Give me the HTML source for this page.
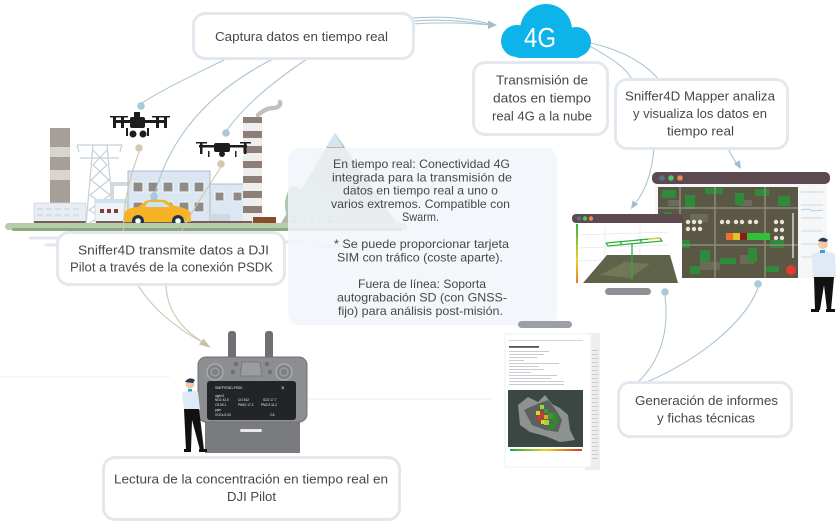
<!DOCTYPE html>
<html><head><meta charset="utf-8">
<style>
html,body{margin:0;padding:0;background:#fff;}
svg{display:block;}
text{font-family:"Liberation Sans",sans-serif;fill:#474747;}
</style></head><body>
<svg width="840" height="530" viewBox="0 0 840 530" xmlns="http://www.w3.org/2000/svg">
<defs>
<linearGradient id="gb" x1="0" x2="1" y1="0" y2="0"><stop offset="0" stop-color="#1fa83a"/><stop offset="0.5" stop-color="#e8d21a"/><stop offset="1" stop-color="#e0332b"/></linearGradient>
<linearGradient id="ga" x1="0" x2="0" y1="0" y2="1"><stop offset="0" stop-color="#3cb043"/><stop offset="0.6" stop-color="#e6d22a"/><stop offset="1" stop-color="#ef7b2a"/></linearGradient>
</defs>

<!-- faint ground lines -->
<line x1="0" y1="377" x2="170" y2="377" stroke="#eef2f6" stroke-width="1"/>
<line x1="305" y1="399" x2="493" y2="399" stroke="#e6edf3" stroke-width="1"/>

<!-- ===== Industrial scene ===== -->
<g stroke="#e3e7eb" stroke-width="3" stroke-linecap="round">
<line x1="30" y1="238" x2="60" y2="238"/><line x1="46" y1="245" x2="70" y2="245"/>
<line x1="120" y1="240" x2="160" y2="240"/><line x1="250" y1="242" x2="300" y2="242"/>
<line x1="320" y1="246" x2="370" y2="246"/>
</g>
<rect x="50" y="128" width="20" height="75" fill="#a59f98"/>
<rect x="50" y="147" width="20" height="10" fill="#d9d6d2"/>
<rect x="50" y="170" width="20" height="10" fill="#d9d6d2"/>
<rect x="34" y="203" width="52" height="22" fill="#e9edf2" stroke="#cdd5dd" stroke-width="0.8"/>
<g fill="#cfe0ee">
<rect x="37" y="208" width="6" height="2"/><rect x="46" y="208" width="6" height="2"/><rect x="55" y="208" width="6" height="2"/><rect x="64" y="208" width="6" height="2"/><rect x="73" y="208" width="6" height="2"/>
<rect x="37" y="214" width="6" height="2"/><rect x="46" y="214" width="6" height="2"/><rect x="55" y="214" width="6" height="2"/><rect x="64" y="214" width="6" height="2"/><rect x="73" y="214" width="6" height="2"/>
</g>
<rect x="34" y="221" width="52" height="4" fill="#7a5c5c"/>
<g stroke="#c6cfd8" stroke-width="1.2" fill="none">
<line x1="77" y1="145" x2="122" y2="145"/><line x1="80" y1="158" x2="119" y2="158"/>
<line x1="93" y1="145" x2="86" y2="225"/><line x1="107" y1="145" x2="114" y2="225"/>
<polyline points="93,150 107,165 91,180 110,195 89,210 112,224"/>
<polyline points="107,150 93,165 109,180 90,195 111,210 88,224"/>
<line x1="77" y1="145" x2="79" y2="152"/><line x1="122" y1="145" x2="120" y2="152"/>
</g>
<path d="M112,200 L112,184 L128,184" stroke="#d4d9de" stroke-width="4" fill="none"/>
<rect x="95" y="200" width="32" height="22" fill="#eef3f7" stroke="#c9d3dc" stroke-width="0.8"/>
<rect x="95" y="199" width="32" height="4" fill="#cfe1ee"/>
<g fill="#8a3a2a"><rect x="100" y="209" width="4" height="4"/><rect x="107" y="209" width="4" height="4"/><rect x="114" y="209" width="4" height="4"/></g>
<rect x="128" y="171" width="82" height="54" fill="#dae6f2" stroke="#aebccb" stroke-width="1"/>
<g fill="#8f8a86" stroke="#eef2f6" stroke-width="1.2">
<rect x="133" y="182" width="10" height="10"/><rect x="148" y="182" width="10" height="10"/><rect x="163" y="182" width="10" height="10"/><rect x="179" y="182" width="10" height="10"/><rect x="194" y="182" width="10" height="10"/>
<rect x="133" y="202" width="10" height="10"/><rect x="163" y="202" width="10" height="10"/><rect x="179" y="202" width="10" height="10"/><rect x="194" y="202" width="10" height="10"/>
</g>
<rect x="210" y="184" width="43" height="41" fill="#dbe7f2" stroke="#aebccb" stroke-width="1"/>
<g fill="#8f8a86" stroke="#eef2f6" stroke-width="1.2"><rect x="215" y="192" width="9" height="9"/><rect x="233" y="192" width="9" height="9"/></g>
<rect x="210" y="214" width="20" height="8" fill="#cfd9e3"/>
<rect x="243" y="117" width="19" height="104" fill="#eeeeee"/>
<g fill="#8d7f78">
<rect x="243" y="117" width="19" height="6"/><rect x="243" y="131" width="19" height="7"/><rect x="243" y="146" width="19" height="7"/><rect x="243" y="161" width="19" height="7"/><rect x="243" y="176" width="19" height="7"/><rect x="243" y="191" width="19" height="7"/><rect x="243" y="206" width="19" height="7"/>
</g>
<rect x="253" y="217" width="23" height="8" fill="#8a4a2e"/>
<path d="M258,115 C264,110 268,108 273,108 C278,108 281,105 280,102" stroke="#c4c1bd" stroke-width="4.5" fill="none" stroke-linecap="round"/>
<rect x="96" y="221" width="156" height="4" fill="#7a5c5c"/>
<path d="M124,222 L124,213 Q126,208 138,207 L146,201 Q150,199 165,200 L175,206 Q188,208 191,213 L191,222 Z" fill="#f6b325"/>
<path d="M148,202 L163,202 L170,207 L145,207 Z" fill="#c6e6f5"/>
<rect x="151" y="197" width="6" height="3" fill="#9bbbd0"/>
<circle cx="138" cy="221" r="6" fill="#263247"/><circle cx="138" cy="221" r="2.8" fill="#fff"/>
<circle cx="178" cy="221" r="6" fill="#263247"/><circle cx="178" cy="221" r="2.8" fill="#fff"/>

<polygon points="335,133 278,228 400,228" fill="#b9b7b3"/>
<polygon points="335,133 327,147 343,147" fill="#d3e6f1"/>
<g fill="#a7c8ac"><ellipse cx="295" cy="205" rx="10" ry="19"/><ellipse cx="313" cy="204" rx="11" ry="21"/><ellipse cx="331" cy="206" rx="10" ry="18"/></g>
<g fill="#b0665a"><rect x="293" y="220" width="2" height="5"/><rect x="311" y="220" width="2" height="5"/><rect x="329" y="220" width="2" height="5"/></g>
<rect x="5" y="223" width="402" height="7" rx="3.5" fill="#b5cda8"/>
<rect x="12" y="228" width="390" height="3" rx="1.5" fill="#8aa87b"/>

<!-- ===== connectors ===== -->
<g fill="none" stroke="#abc4d3" stroke-width="1.1">
<path d="M230,57 C200,72 165,88 142,103"/>
<path d="M277,57 C230,80 175,120 155,193"/>
<path d="M310,57 C275,80 245,105 227,130"/>
<path d="M412,18 C440,16 468,18 490,24"/>
<path d="M412,21 C440,19 468,21 490,25"/>
<path d="M412,24 C440,22 468,23 490,25"/>
<path d="M588,45 C605,55 625,65 633,81"/>
<path d="M591,43 C620,50 645,62 660,81"/>
<path d="M654,148 C652,172 645,192 634,205"/>
<path d="M728,148 C731,155 734,160 738,165"/>
<path d="M665,296 C669,330 662,360 636,384"/>
<path d="M758,288 C745,322 700,360 642,384"/>
</g>
<g fill="none" stroke="#cfc6b3" stroke-width="1.1">
<path d="M139,152 C125,190 117,230 130,270 C145,305 178,330 206,344"/>
<path d="M221,167 C200,200 170,240 166,280 C165,310 182,330 206,344"/>
</g>
<polygon points="497,25 488,20.5 488,29" fill="#a4bccc"/>
<polygon points="631,209 638.3,204.3 632.5,200.5" fill="#a4bccc"/>
<polygon points="741,169 739.9,160.3 733.9,163.9" fill="#a4bccc"/>
<polygon points="211,348 199,344.5 203.5,338.5" fill="#cbc1ab"/>
<g fill="#a9c8d8"><circle cx="141" cy="106" r="3.8"/><circle cx="226" cy="133" r="3.8"/><circle cx="154" cy="196" r="3.8"/><circle cx="665" cy="292" r="3.8"/><circle cx="758" cy="284" r="3.8"/></g>
<g fill="#d3c8b2"><circle cx="139" cy="148" r="3.8"/><circle cx="221" cy="164" r="3.8"/></g>

<!-- drones -->
<g fill="#1d1d1d">
<rect x="130" y="117" width="15" height="11" rx="2"/>
<rect x="113" y="120" width="54" height="3"/>
<rect x="113" y="116" width="3" height="12"/><rect x="121" y="116" width="3" height="12"/><rect x="156" y="116" width="3" height="12"/><rect x="164" y="116" width="3" height="12"/>
<rect x="110" y="116" width="10" height="1.5"/><rect x="118" y="116" width="10" height="1.5"/><rect x="152" y="116" width="10" height="1.5"/><rect x="160" y="116" width="10" height="1.5"/>
<circle cx="133" cy="134" r="3.5"/><circle cx="143" cy="134" r="3.5"/>
<rect x="126" y="128" width="2" height="8"/><rect x="147" y="128" width="2" height="8"/>
<rect x="134" y="112" width="6" height="6"/>
<rect x="214" y="143" width="16" height="9" rx="2"/>
<rect x="199" y="145" width="48" height="2.5"/>
<rect x="200" y="142" width="2.5" height="12"/><rect x="244" y="142" width="2.5" height="12"/>
<rect x="196" y="142" width="11" height="1.5"/><rect x="240" y="142" width="11" height="1.5"/>
<circle cx="222" cy="154" r="3"/><rect x="208" y="151" width="1.5" height="6"/><rect x="235" y="151" width="1.5" height="6"/>
</g>

<rect x="288" y="148" width="269" height="177" rx="11" fill="#f1f5f9" opacity="0.86"/>

<!-- 4G cloud -->
<g fill="#0db4e9">
<circle cx="517" cy="41" r="16"/><circle cx="546" cy="30" r="26"/><circle cx="576" cy="42" r="15"/>
<rect x="512" y="36" width="72" height="22" rx="8"/>
</g>
<text x="540" y="47" font-size="28" text-anchor="middle" style="fill:#fff" textLength="32" lengthAdjust="spacingAndGlyphs">4G</text>

<!-- big screen -->
<rect x="652" y="172" width="178" height="12" rx="5" fill="#5c4a50"/>
<circle cx="662" cy="178" r="2.8" fill="#5b7186"/><circle cx="671" cy="178" r="2.8" fill="#4cc36a"/><circle cx="680" cy="178" r="2.8" fill="#f08a4b"/>
<rect x="655" y="184" width="172" height="94" fill="#f5f6f7"/>
<rect x="658" y="187" width="140" height="91" fill="#5a5744"/>
<g fill="#6e6a58">
<rect x="668" y="200" width="12" height="6"/><rect x="690" y="214" width="18" height="8"/><rect x="740" y="200" width="12" height="6"/><rect x="700" y="262" width="20" height="8"/><rect x="740" y="255" width="14" height="9"/><rect x="660" y="250" width="12" height="8"/>
</g>
<g fill="#2f8a39">
<rect x="662" y="190" width="14" height="8"/><rect x="685" y="195" width="10" height="14"/><rect x="705" y="188" width="18" height="6"/><rect x="735" y="193" width="9" height="12"/><rect x="755" y="189" width="14" height="7"/><rect x="778" y="196" width="12" height="10"/>
<rect x="664" y="212" width="8" height="16"/><rect x="676" y="240" width="14" height="8"/><rect x="700" y="250" width="10" height="12"/><rect x="720" y="258" width="16" height="6"/><rect x="748" y="248" width="9" height="14"/><rect x="770" y="240" width="14" height="8"/>
<rect x="662" y="262" width="12" height="10"/><rect x="690" y="266" width="10" height="8"/><rect x="765" y="266" width="14" height="6"/>
</g>
<g stroke="#8e8b7a" stroke-width="1.5">
<line x1="658" y1="208" x2="798" y2="208"/><line x1="658" y1="245" x2="798" y2="245"/><line x1="680" y1="187" x2="680" y2="278"/><line x1="715" y1="187" x2="715" y2="278"/><line x1="765" y1="187" x2="765" y2="278"/>
</g>
<g fill="#e7e5da">
<circle cx="688" cy="222" r="2.2"/><circle cx="694" cy="222" r="2.2"/><circle cx="700" cy="222" r="2.2"/><circle cx="688" cy="229" r="2.2"/><circle cx="694" cy="229" r="2.2"/><circle cx="700" cy="229" r="2.2"/>
<circle cx="722" cy="222" r="2.2"/><circle cx="728" cy="222" r="2.2"/><circle cx="736" cy="222" r="2.2"/><circle cx="742" cy="222" r="2.2"/><circle cx="750" cy="222" r="2.2"/><circle cx="756" cy="222" r="2.2"/>
<circle cx="776" cy="222" r="2.2"/><circle cx="782" cy="222" r="2.2"/><circle cx="776" cy="230" r="2.2"/><circle cx="782" cy="230" r="2.2"/><circle cx="776" cy="238" r="2.2"/><circle cx="782" cy="238" r="2.2"/>
</g>
<rect x="726" y="233" width="7" height="7" fill="#e8742a"/><rect x="733" y="233" width="7" height="7" fill="#e2c32a"/><rect x="740" y="233" width="7" height="7" fill="#8b1d1d"/><rect x="747" y="233" width="23" height="7" fill="#31c03a"/>
<line x1="793" y1="213" x2="793" y2="258" stroke="#f2f2f2" stroke-width="1.2"/>
<circle cx="791" cy="270" r="5" fill="#e53935"/>
<g stroke="#c9ced3" stroke-width="0.8">
<line x1="801" y1="192" x2="823" y2="192"/><line x1="801" y1="205" x2="823" y2="205"/><line x1="801" y1="218" x2="823" y2="218"/><line x1="801" y1="231" x2="823" y2="231"/><line x1="801" y1="244" x2="823" y2="244"/><line x1="801" y1="257" x2="823" y2="257"/>
</g>
<polyline points="801,210 808,209 814,211 823,210" fill="none" stroke="#9cc3dd" stroke-width="0.8"/>
<!-- small screen -->
<rect x="572" y="214" width="111" height="9" rx="4" fill="#5c4a50"/>
<circle cx="579" cy="218.5" r="2.2" fill="#5b7186"/><circle cx="585" cy="218.5" r="2.2" fill="#4cc36a"/><circle cx="591" cy="218.5" r="2.2" fill="#f08a4b"/>
<rect x="573" y="223" width="109" height="61" fill="#fff"/>
<g stroke="#e3e6e9" stroke-width="0.7"><line x1="578" y1="235" x2="668" y2="232"/><line x1="578" y1="248" x2="668" y2="245"/><line x1="578" y1="261" x2="668" y2="258"/><line x1="605" y1="226" x2="605" y2="270"/><line x1="640" y1="226" x2="640" y2="270"/></g>
<rect x="576" y="224" width="2" height="59" fill="url(#ga)"/>
<polygon points="583,283 607,255 670,255 678,283" fill="#5f6349"/>
<polygon points="600,275 625,262 650,264 630,278" fill="#747757"/>
<g stroke="#2fae3a" stroke-width="1.3" fill="none">
<polyline points="606,243 660,238 662,241 608,246 606,243"/>
<line x1="620" y1="241" x2="622" y2="245"/><line x1="640" y1="239" x2="642" y2="243"/>
<line x1="632" y1="244" x2="632" y2="280"/>
</g>
<line x1="648" y1="239" x2="660" y2="238" stroke="#e5c83a" stroke-width="1.3"/>
<rect x="605" y="288" width="46" height="7" rx="3.5" fill="#8d9196"/>
<!-- man right -->
<circle cx="823" cy="244" r="5" fill="#f2c9a5"/>
<path d="M818,241 Q822,235 828,240 L826,242 Z" fill="#1f3a5c"/>
<path d="M812,254 Q823,248 835,254 L836,278 L813,278 Z" fill="#dfeaf6"/>
<rect x="820" y="250" width="5" height="3" fill="#2aa3d8"/>
<path d="M814,277 L834,277 L831,310 L827,310 L824,285 L820,310 L815,310 Z" fill="#111"/>
<rect x="811" y="309" width="8" height="3" fill="#111"/><rect x="826" y="309" width="9" height="3" fill="#111"/>

<!-- report doc -->
<rect x="518" y="321" width="54" height="7" rx="3.5" fill="#9ca0a6"/>
<rect x="585" y="333" width="15" height="137" fill="#eceef0"/>
<rect x="505" y="334" width="86" height="133" fill="#fff" stroke="#eef0f2" stroke-width="1"/>
<g fill="#c8ccd0">
<rect x="592" y="350" width="6" height="1"/><rect x="592" y="354" width="6" height="1"/><rect x="592" y="358" width="6" height="1"/><rect x="592" y="362" width="6" height="1"/><rect x="592" y="366" width="6" height="1"/><rect x="592" y="370" width="6" height="1"/><rect x="592" y="374" width="6" height="1"/><rect x="592" y="378" width="6" height="1"/><rect x="592" y="382" width="6" height="1"/><rect x="592" y="386" width="6" height="1"/><rect x="592" y="390" width="6" height="1"/><rect x="592" y="394" width="6" height="1"/><rect x="592" y="398" width="6" height="1"/><rect x="592" y="402" width="6" height="1"/><rect x="592" y="406" width="6" height="1"/><rect x="592" y="410" width="6" height="1"/><rect x="592" y="414" width="6" height="1"/><rect x="592" y="418" width="6" height="1"/><rect x="592" y="422" width="6" height="1"/><rect x="592" y="426" width="6" height="1"/><rect x="592" y="430" width="6" height="1"/><rect x="592" y="434" width="6" height="1"/><rect x="592" y="438" width="6" height="1"/><rect x="592" y="442" width="6" height="1"/><rect x="592" y="446" width="6" height="1"/><rect x="592" y="450" width="6" height="1"/><rect x="592" y="454" width="6" height="1"/><rect x="592" y="458" width="6" height="1"/>
<rect x="508" y="340" width="75" height="0.8"/>
<rect x="509" y="351" width="40" height="1"/><rect x="509" y="354" width="35" height="1"/><rect x="509" y="357" width="28" height="1"/><rect x="509" y="360" width="15" height="1"/><rect x="509" y="363" width="50" height="1"/><rect x="509" y="366" width="30" height="1"/><rect x="509" y="369" width="35" height="1"/><rect x="509" y="372" width="22" height="1"/><rect x="509" y="375" width="48" height="1"/><rect x="509" y="378" width="42" height="1"/><rect x="509" y="381" width="55" height="1"/><rect x="509" y="384" width="55" height="1"/>
</g>
<rect x="509" y="346" width="30" height="1.8" fill="#555"/>
<rect x="508" y="390" width="75" height="57" fill="#3b4742"/>
<path d="M518,405 L528,397 L538,402 L545,395 L552,404 L560,408 L568,415 L570,430 L575,440 L560,442 L545,436 L530,432 L520,425 Z" fill="#8d918f"/>
<path d="M524,410 L535,405 L548,400 L556,410 L562,420 L558,432 L545,430 L532,425 Z" fill="#5a605c"/>
<g>
<rect x="540" y="405" width="4" height="4" fill="#a6d42a"/><rect x="544" y="409" width="4" height="4" fill="#3a9a2e"/><rect x="536" y="411" width="4" height="4" fill="#e8d21a"/><rect x="540" y="413" width="4" height="4" fill="#e0332b"/><rect x="544" y="415" width="4" height="4" fill="#e8a21a"/><rect x="537" y="416" width="4" height="4" fill="#e0332b"/><rect x="548" y="413" width="5" height="6" fill="#3a9a2e"/><rect x="553" y="414" width="5" height="10" fill="#2f8a2a"/><rect x="544" y="420" width="5" height="5" fill="#a6d42a"/><rect x="549" y="424" width="6" height="5" fill="#2f8a2a"/><rect x="541" y="420" width="3" height="4" fill="#e8d21a"/>
</g>
<rect x="510" y="449" width="72" height="2" fill="url(#gb)"/>

<!-- remote controller -->
<rect x="228" y="331" width="8" height="30" rx="3" fill="#6e7073"/>
<rect x="265" y="331" width="8" height="30" rx="3" fill="#6e7073"/>
<rect x="205" y="418" width="95" height="35" fill="#797b7e"/>
<rect x="198" y="357" width="109" height="65" rx="8" fill="#8c8e91" stroke="#6f7174" stroke-width="1"/>
<circle cx="215" cy="372" r="8" fill="#7f8184" stroke="#a8aaad" stroke-width="1.5"/><circle cx="215" cy="372" r="4" fill="none" stroke="#a8aaad" stroke-width="1"/>
<circle cx="284" cy="372" r="8" fill="#7f8184" stroke="#a8aaad" stroke-width="1.5"/><circle cx="284" cy="372" r="4" fill="none" stroke="#a8aaad" stroke-width="1"/>
<path d="M242,362 L260,362 L262,376 L240,376 Z" fill="#9a9c9f" stroke="#6f7174" stroke-width="0.8"/>
<circle cx="236" cy="364" r="2.2" fill="#6d6f72"/><circle cx="267" cy="364" r="2.2" fill="#6d6f72"/><circle cx="233" cy="372" r="2.2" fill="#6d6f72"/><circle cx="270" cy="372" r="2.2" fill="#6d6f72"/>
<rect x="207" y="381" width="89" height="39" rx="3" fill="#222426"/>
<g>
<text x="215" y="389" style="fill:#e8e8e8" font-size="3.2">SNIFFER4D-PSDK</text>
<text x="281" y="390" style="fill:#e8e8e8" font-size="6">×</text>
<text x="215" y="397" style="fill:#e8e8e8" font-size="3.2">ug/m3</text>
<text x="215" y="401" style="fill:#e8e8e8" font-size="3.2">NO2 42.5</text>
<text x="238" y="401" style="fill:#e8e8e8" font-size="3.2">CO 542</text>
<text x="263" y="401" style="fill:#e8e8e8" font-size="3.2">SO2 17.7</text>
<text x="215" y="406" style="fill:#e8e8e8" font-size="3.2">O3 50.1</text>
<text x="238" y="406" style="fill:#e8e8e8" font-size="3.2">PM10 17.2</text>
<text x="261" y="406" style="fill:#e8e8e8" font-size="3.2">PM2.5 11.2</text>
<text x="215" y="411" style="fill:#e8e8e8" font-size="3.2">ppm</text>
<text x="215" y="416" style="fill:#e8e8e8" font-size="3.2">VOCs 5.33</text>
<text x="270" y="416" style="fill:#e8e8e8" font-size="3.2">2.8</text>
</g>
<rect x="240" y="429" width="22" height="3" rx="1.5" fill="#e8e8e8"/>
<!-- man left -->
<circle cx="190" cy="384" r="4.5" fill="#f2c9a5"/>
<path d="M185,382 Q189,376 195,380 L193,383 Z" fill="#1f3a5c"/>
<path d="M182,393 Q190,388 198,392 L200,410 L184,410 Z" fill="#dfeaf6"/>
<rect x="188" y="389" width="4" height="2.5" fill="#2aa3d8"/>
<path d="M184,409 L199,409 L204,450 L200,450 L192,420 L191,450 L186,450 Z" fill="#111"/>
<rect x="184" y="449" width="7" height="3" fill="#111"/><rect x="199" y="449" width="8" height="3" fill="#111"/>

<!-- boxes -->
<g fill="#e2e8ee">
<rect x="192" y="12" width="223" height="48" rx="13"/>
<rect x="472" y="61" width="137" height="75" rx="13"/>
<rect x="614" y="78" width="175" height="72" rx="13"/>
<rect x="56" y="231" width="230" height="55" rx="13"/>
<rect x="102" y="456" width="299" height="65" rx="13"/>
<rect x="617" y="381" width="176" height="57" rx="13"/>
</g>
<g fill="#fff">
<rect x="195" y="15" width="217" height="42" rx="10"/>
<rect x="475" y="64" width="131" height="69" rx="10"/>
<rect x="617" y="81" width="169" height="66" rx="10"/>
<rect x="59" y="234" width="224" height="49" rx="10"/>
<rect x="105" y="459" width="293" height="59" rx="10"/>
<rect x="620" y="384" width="170" height="51" rx="10"/>
</g>

<!-- texts -->
<g font-size="13.3" text-anchor="middle">
<text x="301.5" y="41" textLength="173" lengthAdjust="spacingAndGlyphs">Captura datos en tiempo real</text>
<text x="542" y="84.5" textLength="92" lengthAdjust="spacingAndGlyphs">Transmisión de</text>
<text x="542" y="102.5" textLength="98" lengthAdjust="spacingAndGlyphs">datos en tiempo</text>
<text x="542" y="120.5" textLength="100" lengthAdjust="spacingAndGlyphs">real 4G a la nube</text>
<text x="700" y="100.5" textLength="150" lengthAdjust="spacingAndGlyphs">Sniffer4D Mapper analiza</text>
<text x="700" y="118" textLength="134" lengthAdjust="spacingAndGlyphs">y visualiza los datos en</text>
<text x="700.5" y="135.5" textLength="67" lengthAdjust="spacingAndGlyphs">tiempo real</text>
<text x="173.5" y="254.5" textLength="191" lengthAdjust="spacingAndGlyphs">Sniffer4D transmite datos a DJI</text>
<text x="171.5" y="271.5" textLength="203" lengthAdjust="spacingAndGlyphs">Pilot a través de la conexión PSDK</text>
<text x="251" y="483.5" textLength="274" lengthAdjust="spacingAndGlyphs">Lectura de la concentración en tiempo real en</text>
<text x="251.5" y="501" textLength="49" lengthAdjust="spacingAndGlyphs">DJI Pilot</text>
<text x="706.5" y="405" textLength="143" lengthAdjust="spacingAndGlyphs">Generación de informes</text>
<text x="706" y="422.5" textLength="98" lengthAdjust="spacingAndGlyphs">y fichas técnicas</text>
</g>
<g font-size="11.6" text-anchor="middle">
<text x="421.5" y="168" textLength="177" lengthAdjust="spacingAndGlyphs">En tiempo real: Conectividad 4G</text>
<text x="422" y="181.5" textLength="180" lengthAdjust="spacingAndGlyphs">integrada para la transmisión de</text>
<text x="420.5" y="194.5" textLength="155" lengthAdjust="spacingAndGlyphs">datos en tiempo real a uno o</text>
<text x="420.5" y="208" textLength="179" lengthAdjust="spacingAndGlyphs">varios extremos. Compatible con</text>
<text x="420.5" y="221" textLength="37" lengthAdjust="spacingAndGlyphs">Swarm.</text>
<text x="421.5" y="248" textLength="175" lengthAdjust="spacingAndGlyphs">* Se puede proporcionar tarjeta</text>
<text x="420" y="261.5" textLength="166" lengthAdjust="spacingAndGlyphs">SIM con tráfico (coste aparte).</text>
<text x="422" y="288" textLength="128" lengthAdjust="spacingAndGlyphs">Fuera de línea: Soporta</text>
<text x="422" y="301.5" textLength="170" lengthAdjust="spacingAndGlyphs">autograbación SD (con GNSS-</text>
<text x="420.5" y="315" textLength="165" lengthAdjust="spacingAndGlyphs">fijo) para análisis post-misión.</text>
</g>
</svg>
</body></html>
